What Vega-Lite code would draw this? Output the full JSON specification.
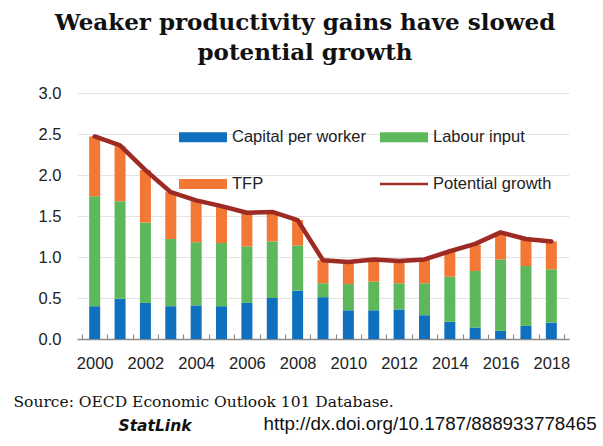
{
  "$schema": "https://vega.github.io/schema/vega-lite/v6.json",
  "width": 492,
  "height": 246,
  "autosize": "none",
  "padding": {"left": 77, "top": 93, "right": 34, "bottom": 107},
  "background": "white",
  "title": {
    "text": ["Weaker productivity gains have slowed", "potential growth"],
    "font": "DejaVu Serif",
    "fontWeight": "bold",
    "fontSize": 23,
    "lineHeight": 30,
    "color": "#111",
    "anchor": "middle",
    "dx": -18,
    "offset": 20
  },
  "datasets": {
    "bars": [
      {"year": 2000, "component": "Capital per worker", "value": 0.40},
      {"year": 2000, "component": "Labour input", "value": 1.34},
      {"year": 2000, "component": "TFP", "value": 0.73},
      {"year": 2001, "component": "Capital per worker", "value": 0.49},
      {"year": 2001, "component": "Labour input", "value": 1.19},
      {"year": 2001, "component": "TFP", "value": 0.67},
      {"year": 2002, "component": "Capital per worker", "value": 0.44},
      {"year": 2002, "component": "Labour input", "value": 0.98},
      {"year": 2002, "component": "TFP", "value": 0.64},
      {"year": 2003, "component": "Capital per worker", "value": 0.40},
      {"year": 2003, "component": "Labour input", "value": 0.82},
      {"year": 2003, "component": "TFP", "value": 0.57},
      {"year": 2004, "component": "Capital per worker", "value": 0.41},
      {"year": 2004, "component": "Labour input", "value": 0.77},
      {"year": 2004, "component": "TFP", "value": 0.50},
      {"year": 2005, "component": "Capital per worker", "value": 0.40},
      {"year": 2005, "component": "Labour input", "value": 0.77},
      {"year": 2005, "component": "TFP", "value": 0.44},
      {"year": 2006, "component": "Capital per worker", "value": 0.44},
      {"year": 2006, "component": "Labour input", "value": 0.69},
      {"year": 2006, "component": "TFP", "value": 0.41},
      {"year": 2007, "component": "Capital per worker", "value": 0.50},
      {"year": 2007, "component": "Labour input", "value": 0.69},
      {"year": 2007, "component": "TFP", "value": 0.35},
      {"year": 2008, "component": "Capital per worker", "value": 0.59},
      {"year": 2008, "component": "Labour input", "value": 0.55},
      {"year": 2008, "component": "TFP", "value": 0.31},
      {"year": 2009, "component": "Capital per worker", "value": 0.51},
      {"year": 2009, "component": "Labour input", "value": 0.17},
      {"year": 2009, "component": "TFP", "value": 0.28},
      {"year": 2010, "component": "Capital per worker", "value": 0.35},
      {"year": 2010, "component": "Labour input", "value": 0.32},
      {"year": 2010, "component": "TFP", "value": 0.27},
      {"year": 2011, "component": "Capital per worker", "value": 0.35},
      {"year": 2011, "component": "Labour input", "value": 0.35},
      {"year": 2011, "component": "TFP", "value": 0.26},
      {"year": 2012, "component": "Capital per worker", "value": 0.36},
      {"year": 2012, "component": "Labour input", "value": 0.32},
      {"year": 2012, "component": "TFP", "value": 0.27},
      {"year": 2013, "component": "Capital per worker", "value": 0.29},
      {"year": 2013, "component": "Labour input", "value": 0.39},
      {"year": 2013, "component": "TFP", "value": 0.29},
      {"year": 2014, "component": "Capital per worker", "value": 0.21},
      {"year": 2014, "component": "Labour input", "value": 0.55},
      {"year": 2014, "component": "TFP", "value": 0.30},
      {"year": 2015, "component": "Capital per worker", "value": 0.14},
      {"year": 2015, "component": "Labour input", "value": 0.69},
      {"year": 2015, "component": "TFP", "value": 0.32},
      {"year": 2016, "component": "Capital per worker", "value": 0.10},
      {"year": 2016, "component": "Labour input", "value": 0.87},
      {"year": 2016, "component": "TFP", "value": 0.32},
      {"year": 2017, "component": "Capital per worker", "value": 0.16},
      {"year": 2017, "component": "Labour input", "value": 0.73},
      {"year": 2017, "component": "TFP", "value": 0.32},
      {"year": 2018, "component": "Capital per worker", "value": 0.20},
      {"year": 2018, "component": "Labour input", "value": 0.65},
      {"year": 2018, "component": "TFP", "value": 0.34}
    ],
    "potential": [
      {"year": 2000, "value": 2.47},
      {"year": 2001, "value": 2.36},
      {"year": 2002, "value": 2.06},
      {"year": 2003, "value": 1.79},
      {"year": 2004, "value": 1.69},
      {"year": 2005, "value": 1.62},
      {"year": 2006, "value": 1.54},
      {"year": 2007, "value": 1.55},
      {"year": 2008, "value": 1.45},
      {"year": 2009, "value": 0.96},
      {"year": 2010, "value": 0.94},
      {"year": 2011, "value": 0.97},
      {"year": 2012, "value": 0.95},
      {"year": 2013, "value": 0.97},
      {"year": 2014, "value": 1.07},
      {"year": 2015, "value": 1.16},
      {"year": 2016, "value": 1.30},
      {"year": 2017, "value": 1.22},
      {"year": 2018, "value": 1.19}
    ]
  },
  "encoding": {
    "x": {
      "field": "year",
      "type": "quantitative",
      "scale": {"domain": [1999.5, 2018.5], "nice": false, "zero": false},
      "axis": {
        "values": [1999.5, 2000, 2000.5, 2001, 2001.5, 2002, 2002.5, 2003, 2003.5, 2004, 2004.5, 2005, 2005.5, 2006, 2006.5, 2007, 2007.5, 2008, 2008.5, 2009, 2009.5, 2010, 2010.5, 2011, 2011.5, 2012, 2012.5, 2013, 2013.5, 2014, 2014.5, 2015, 2015.5, 2016, 2016.5, 2017, 2017.5, 2018, 2018.5],
        "labelExpr": "datum.value % 2 === 0 ? '' + datum.value : ''",
        "labelFlush": false,
        "labelOverlap": false,
        "labelFont": "Liberation Sans",
        "labelFontSize": 16.5,
        "labelColor": "#222",
        "labelPadding": 21,
        "grid": false,
        "domain": true,
        "domainColor": "#8a8a8a",
        "domainWidth": 1.5,
        "ticks": true,
        "tickColor": "#8a8a8a",
        "tickWidth": 1.2,
        "tickSize": -5,
        "title": "Source:  OECD Economic Outlook 101 Database.",
        "titleFont": "DejaVu Serif",
        "titleFontSize": 15.5,
        "titleFontWeight": "normal",
        "titleColor": "#111",
        "titleAnchor": "start",
        "titleAlign": "left",
        "titleBaseline": "alphabetic",
        "titleX": -64,
        "titleY": 67
      }
    }
  },
  "layer": [
    {
      "data": {"name": "bars"},
      "mark": {"type": "bar", "size": 11},
      "encoding": {
        "y": {
          "field": "value",
          "type": "quantitative",
          "stack": "zero",
          "scale": {"domain": [0, 3], "nice": false},
          "axis": {
            "values": [0, 0.5, 1, 1.5, 2, 2.5, 3],
            "format": ".1f",
            "labelFont": "Liberation Sans",
            "labelFontSize": 16.5,
            "labelColor": "#222",
            "labelPadding": 16,
            "ticks": false,
            "domain": false,
            "grid": true,
            "gridColor": "#e4e4e4",
            "gridWidth": 1,
            "title": "StatLink",
            "titleFont": "DejaVu Sans",
            "titleFontSize": 15.5,
            "titleFontWeight": "bold",
            "titleFontStyle": "italic",
            "titleColor": "#111",
            "titleAngle": 0,
            "titleAlign": "left",
            "titleBaseline": "alphabetic",
            "titleX": 41,
            "titleY": 337
          }
        },
        "order": {"field": "component", "type": "nominal", "sort": "ascending"},
        "color": {
          "field": "component",
          "type": "nominal",
          "scale": {
            "domain": ["Capital per worker", "TFP", "Labour input", "Potential growth"],
            "range": ["#1070c0", "#f37735", "#5cb85a", "#9e2a24"]
          },
          "legend": {
            "orient": "none",
            "legendX": 102,
            "legendY": 20,
            "columns": 2,
            "title": null,
            "padding": 0,
            "symbolType": "M-1,-0.21H1V0.21H-1Z",
            "symbolSize": 2304,
            "labelFont": "Liberation Sans",
            "labelFontSize": 16.5,
            "labelColor": "#222",
            "labelOffset": 5,
            "columnPadding": 14,
            "rowPadding": 14,
            "encode": {
              "symbols": {
                "update": {
                  "shape": {"signal": "datum.value === 'Potential growth' ? 'M-1,-0.055H1V0.055H-1Z' : 'M-1,-0.21H1V0.21H-1Z'"},
                  "fill": {"signal": "scale('color', datum.value)"},
                  "stroke": {"value": "transparent"},
                  "strokeWidth": {"value": 0},
                  "opacity": {"value": 1},
                  "fillOpacity": {"value": 1}
                }
              }
            }
          }
        }
      }
    },
    {
      "data": {"name": "potential"},
      "mark": {"type": "line", "strokeWidth": 4.5, "strokeCap": "round", "strokeJoin": "round"},
      "encoding": {
        "y": {
          "field": "value",
          "type": "quantitative",
          "axis": {
            "orient": "right",
            "labels": false,
            "ticks": false,
            "domain": false,
            "grid": false,
            "title": "http://dx.doi.org/10.1787/888933778465",
            "titleFont": "Liberation Sans",
            "titleFontSize": 18.8,
            "titleFontWeight": "normal",
            "titleColor": "#111",
            "titleAngle": 0,
            "titleAlign": "left",
            "titleBaseline": "alphabetic",
            "titleX": -306,
            "titleY": 336
          }
        },
        "color": {"datum": "Potential growth"}
      }
    }
  ],
  "resolve": {"axis": {"y": "independent"}},
  "config": {"view": {"stroke": null}, "axisX": {"labelOverlap": false}}
}
